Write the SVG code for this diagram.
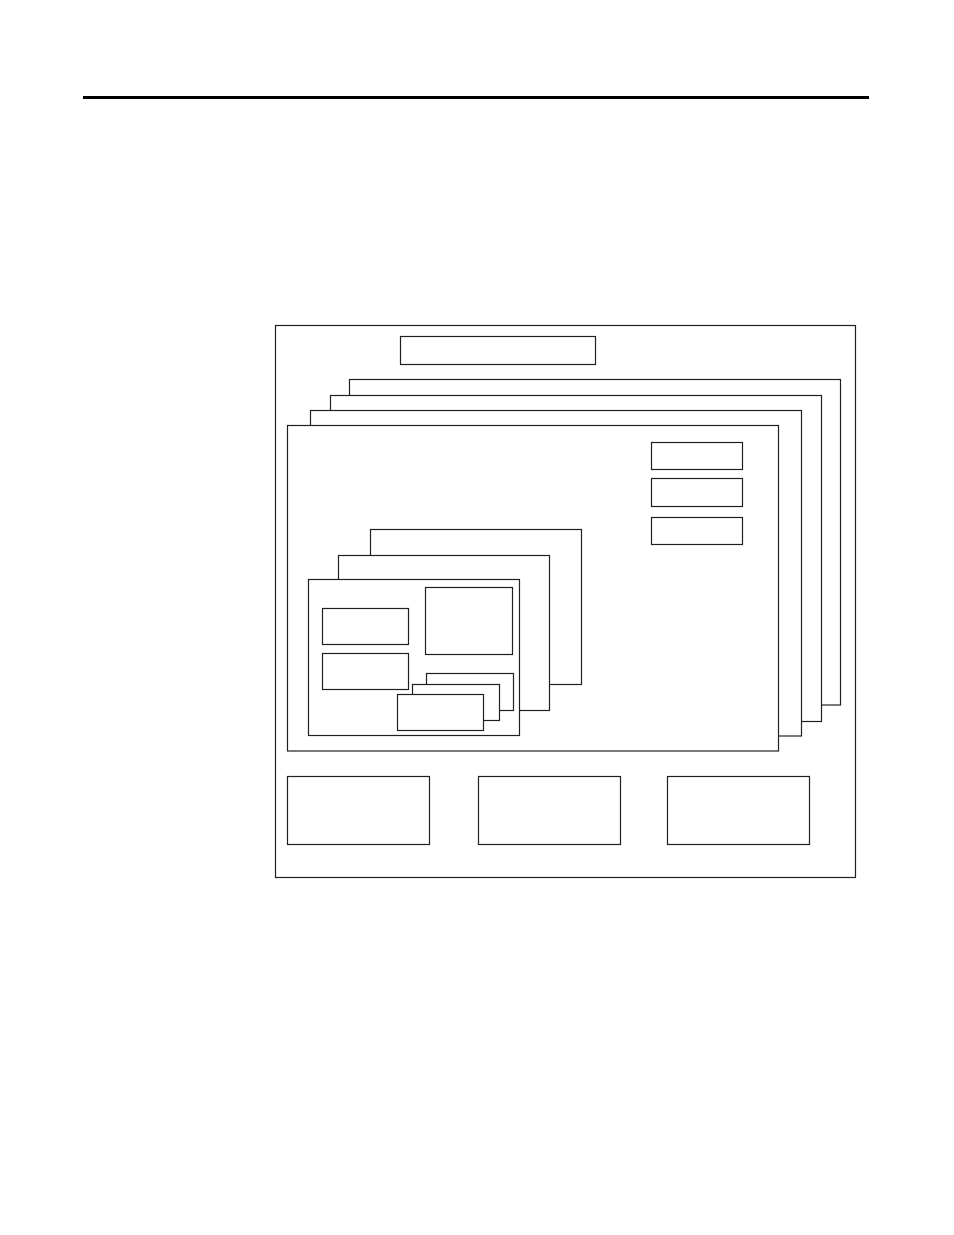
<svg xmlns="http://www.w3.org/2000/svg" width="954" height="1235" viewBox="0 0 954 1235">
<style>
rect{fill:#fff;stroke:#231f20;stroke-width:1.2}
</style>
<rect x="0" y="0" width="954" height="1235" style="stroke:none"/>
<line x1="83" y1="97.5" x2="869" y2="97.5" stroke="#000" stroke-width="3"/>
<g id="outer"><rect x="275.5" y="325.5" width="580" height="552"/></g>
<g id="title-box"><rect x="400.5" y="336.5" width="195" height="28"/></g>
<g id="layer-stack">
<rect x="349.5" y="379.5" width="491" height="325.5"/>
<rect x="330.5" y="395.5" width="491" height="326"/>
<rect x="310.5" y="410.5" width="491" height="325.5"/>
<rect x="287.5" y="425.5" width="491" height="325.5"/>
</g>
<g id="side-boxes">
<rect x="651.5" y="442.5" width="91" height="27"/>
<rect x="651.5" y="478.5" width="91" height="28"/>
<rect x="651.5" y="517.5" width="91" height="27"/>
</g>
<g id="inner-stack">
<rect x="370.5" y="529.5" width="211" height="155"/>
<rect x="338.5" y="555.5" width="211" height="155"/>
<rect x="308.5" y="579.5" width="211" height="156"/>
</g>
<g id="inner-boxes">
<rect x="322.5" y="608.5" width="86" height="36"/>
<rect x="322.5" y="653.5" width="86" height="36"/>
<rect x="425.5" y="587.5" width="87" height="67"/>
</g>
<g id="small-stack">
<rect x="426.5" y="673.5" width="87" height="37"/>
<rect x="412.5" y="684.5" width="87" height="36"/>
<rect x="397.5" y="694.5" width="86" height="36"/>
</g>
<g id="bottom-boxes">
<rect x="287.5" y="776.5" width="142" height="68"/>
<rect x="478.5" y="776.5" width="142" height="68"/>
<rect x="667.5" y="776.5" width="142" height="68"/>
</g>
<g id="connectors"/>
</svg>
